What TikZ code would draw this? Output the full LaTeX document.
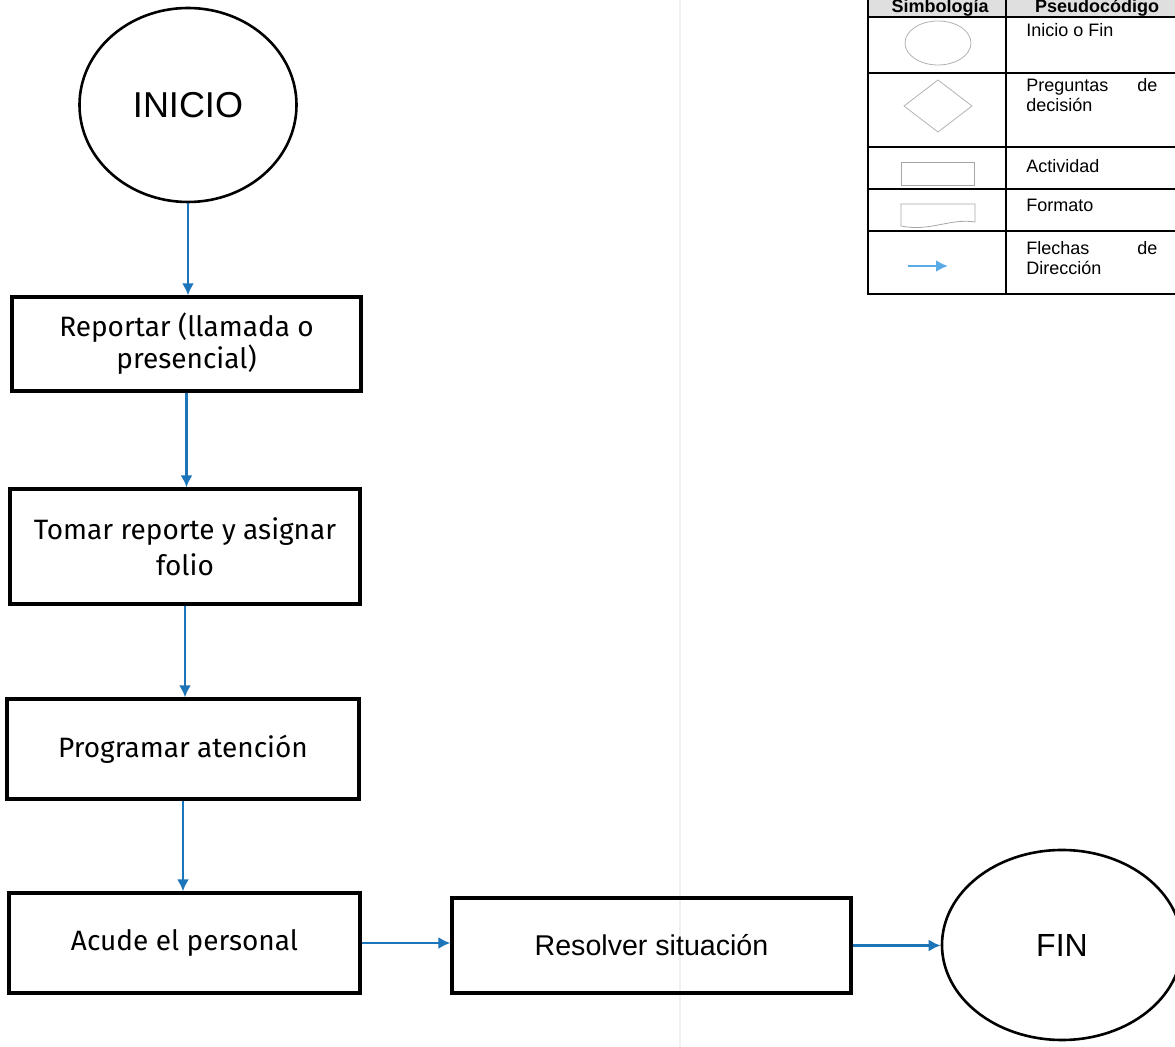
\documentclass[tikz,border=0pt]{standalone}
\usepackage{fontspec}
\setmainfont{Fira Sans}
\newfontfamily\arial{Liberation Sans}
\usetikzlibrary{shapes.geometric,arrows.meta}
\definecolor{flecha}{RGB}{28,117,184}
\definecolor{flechaclara}{RGB}{90,170,230}

\begin{document}
\begin{tikzpicture}[x=0.5pt,y=-0.5pt,>={Latex[length=6pt,width=6pt]},
	caja/.style={draw,line width=1.6pt,align=center,inner sep=0pt,font=\fontsize{14}{16}\selectfont},
	extremo/.style={draw,ellipse,line width=1.3pt,inner sep=0pt,font=\arial\fontsize{18}{21}\selectfont},
	flujo/.style={->,flecha,line width=1.3pt},
	leyenda/.style={anchor=base west,inner sep=0pt,font=\arial\fontsize{9}{10}\selectfont},
	titulo/.style={anchor=base,inner sep=0pt,font=\arial\bfseries\fontsize{9}{10}\selectfont}]
	\useasboundingbox (0,0) rectangle (1175,1047);
	\clip (0,0) rectangle (1175,1047);
	\draw[black!6,line width=0.8pt] (680,0)--(680,1047);
	% diagrama
	\node[extremo,minimum width=108.5pt,minimum height=97pt] (inicio) at (188,105) {INICIO};
	\node[caja,minimum width=174.5pt,minimum height=47pt] (reportar) at (186.5,344) {Reportar (llamada o\\presencial)};
	\node[caja,minimum width=175pt,minimum height=57.5pt] (tomar) at (185,546.5) {Tomar reporte y asignar\\[2pt]folio};
	\node[caja,minimum width=176pt,minimum height=50pt] (programar) at (183,749) {Programar atención};
	\node[caja,minimum width=175.5pt,minimum height=50pt] (acude) at (184.5,943) {Acude el personal};
	\node[caja,minimum width=199.5pt,minimum height=47.5pt,font=\arial\fontsize{14.3}{17}\selectfont] (resolver) at (651.5,945.5) {Resolver situación};
	\node[extremo,minimum width=120pt,minimum height=95pt,font=\arial\fontsize{16}{19}\selectfont] (fin) at (1062,945) {FIN};
	\draw[flujo] (inicio.south)--(inicio.south|-reportar.north);
	\draw[flujo] (reportar.south)--(reportar.south|-tomar.north);
	\draw[flujo] (tomar.south)--(tomar.south|-programar.north);
	\draw[flujo] (programar.south)--(programar.south|-acude.north);
	\draw[flujo] (acude.east)--(acude.east-|resolver.west);
	\draw[flujo] (resolver.east)--(resolver.east-|fin.west);
	% tabla de simbologia
	\fill[gray!25] (868,-5) rectangle (1180,17);
	\draw[line width=0.8pt] (868,-5)--(868,294)--(1180,294) (1006,-5)--(1006,294);
	\foreach \y in {17,73,147,189,231} \draw[line width=0.8pt] (868,\y)--(1180,\y);
	\node[titulo] (simbologia) at (940,13) {Simbología};
	\node[titulo] (pseudocodigo) at (1097,13) {Pseudocódigo};
	\draw[gray!60] (938,43) ellipse [x radius=33,y radius=22];
	\draw[gray!60] (904,106)--(938,80)--(972,106)--(938,132)--cycle;
	\draw[gray!70] (901,162) rectangle (974,185);
	\draw[gray!70] (901,204)--(975,204)--(975,222) .. controls (950,218) and (930,232) .. (901,226)--cycle;
	\draw[->,flechaclara,line width=1.2pt] (908,266)--(948,266);
	\node[leyenda] (inicio o fin) at (1026,37) {Inicio o Fin};
	\node[leyenda,text width=65.5pt] (preguntas) at (1026,92) {Preguntas\hfill de\\decisión};
	\node[leyenda] (actividad) at (1026,173) {Actividad};
	\node[leyenda] (formato) at (1026,212) {Formato};
	\node[leyenda,text width=65.5pt] (flechas) at (1026,255) {Flechas\hfill de\\Dirección};
\end{tikzpicture}
\end{document}
